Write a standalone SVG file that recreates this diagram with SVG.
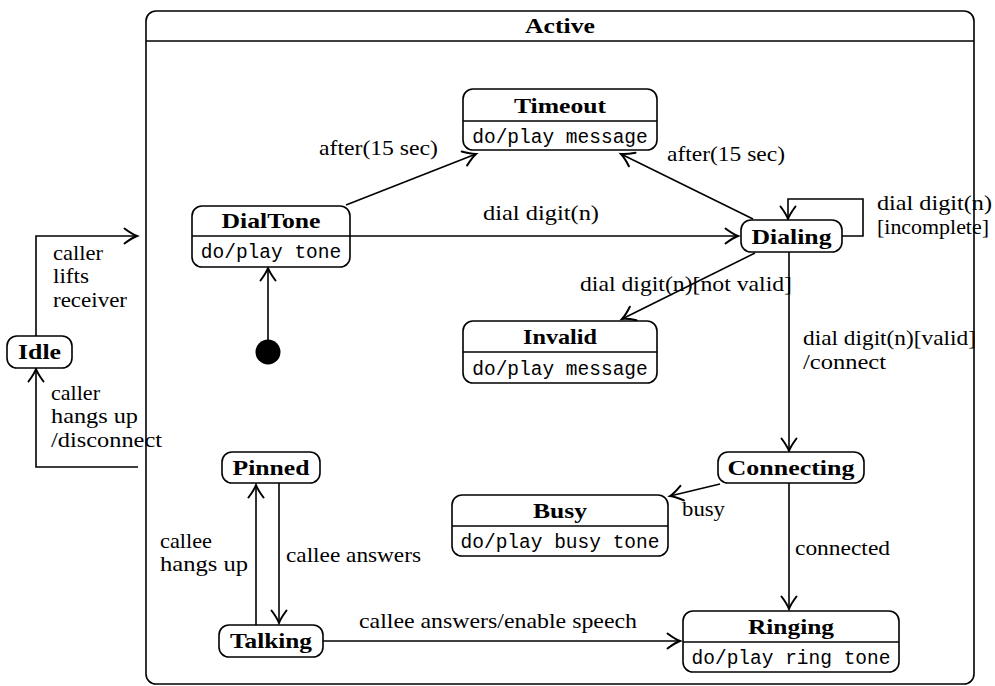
<svg xmlns="http://www.w3.org/2000/svg" width="995" height="686" viewBox="0 0 995 686">
  <style>
    .box { fill: #fff; stroke: #000; stroke-width: 1.6; }
    .div { stroke: #000; stroke-width: 1.6; }
    .edge { fill: none; stroke: #000; stroke-width: 1.6; }
    .title { font-family: "Liberation Serif", "DejaVu Serif", serif; font-weight: bold; font-size: 22px; text-anchor: middle; fill: #000; }
    .act { font-family: "Liberation Mono", "DejaVu Sans Mono", monospace; font-size: 19.5px; text-anchor: middle; fill: #000; }
    .lbl { font-family: "Liberation Serif", "DejaVu Serif", serif; font-size: 22px; fill: #000; }
  </style>
  <defs>
    <marker id="arr" markerUnits="userSpaceOnUse" markerWidth="20" markerHeight="20" viewBox="-12 -8 14 16" refX="0" refY="0" orient="auto">
      <path d="M -10 -6 Q -4 -1.5 0 0 Q -4 1.5 -10 6" fill="none" stroke="#000" stroke-width="1.6" stroke-linecap="round"/>
    </marker>
  </defs>

  <!-- Active composite state -->
  <g id="active">
    <rect class="box" x="146" y="11" width="828" height="673" rx="10"/>
    <line class="div" x1="146" y1="41" x2="974" y2="41"/>
    <text class="title" x="560" y="33" textLength="70" lengthAdjust="spacingAndGlyphs">Active</text>
  </g>

  <!-- Transitions -->
  <g id="connectors">
    <polyline class="edge" points="36,336 36,236 137,236" marker-end="url(#arr)"/>
    <polyline class="edge" points="138,467 36,467 36,369" marker-end="url(#arr)"/>
    <line class="edge" x1="268" y1="340" x2="268" y2="268" marker-end="url(#arr)"/>
    <line class="edge" x1="346" y1="205" x2="476" y2="154" marker-end="url(#arr)"/>
    <line class="edge" x1="753" y1="219" x2="621" y2="154" marker-end="url(#arr)"/>
    <line class="edge" x1="350" y1="236" x2="738" y2="236" marker-end="url(#arr)"/>
    <polyline class="edge" points="842,236 863,236 863,199 788,199 788,219" marker-end="url(#arr)"/>
    <line class="edge" x1="755" y1="253" x2="622" y2="319" marker-end="url(#arr)"/>
    <line class="edge" x1="789" y1="252" x2="789" y2="451" marker-end="url(#arr)"/>
    <line class="edge" x1="720" y1="484" x2="670" y2="496" marker-end="url(#arr)"/>
    <line class="edge" x1="789" y1="483" x2="789" y2="609" marker-end="url(#arr)"/>
    <line class="edge" x1="256" y1="625" x2="256" y2="485" marker-end="url(#arr)"/>
    <line class="edge" x1="279" y1="483" x2="279" y2="623" marker-end="url(#arr)"/>
    <line class="edge" x1="323" y1="641" x2="680" y2="641" marker-end="url(#arr)"/>
  </g>

  <!-- Transition labels -->
  <g id="labels">
    <text class="lbl" x="53" y="260" textLength="50" lengthAdjust="spacingAndGlyphs">caller</text>
    <text class="lbl" x="53" y="283" textLength="36" lengthAdjust="spacingAndGlyphs">lifts</text>
    <text class="lbl" x="53" y="307" textLength="74" lengthAdjust="spacingAndGlyphs">receiver</text>
    <text class="lbl" x="51" y="400" textLength="49" lengthAdjust="spacingAndGlyphs">caller</text>
    <text class="lbl" x="51" y="423" textLength="87" lengthAdjust="spacingAndGlyphs">hangs up</text>
    <text class="lbl" x="51" y="447" textLength="111" lengthAdjust="spacingAndGlyphs">/disconnect</text>
    <text class="lbl" x="319" y="155" textLength="119" lengthAdjust="spacingAndGlyphs">after(15 sec)</text>
    <text class="lbl" x="667" y="161" textLength="118" lengthAdjust="spacingAndGlyphs">after(15 sec)</text>
    <text class="lbl" x="483" y="220" textLength="116" lengthAdjust="spacingAndGlyphs">dial digit(n)</text>
    <text class="lbl" x="877" y="210" textLength="115" lengthAdjust="spacingAndGlyphs">dial digit(n)</text>
    <text class="lbl" x="877" y="234" textLength="112" lengthAdjust="spacingAndGlyphs">[incomplete]</text>
    <text class="lbl" x="580" y="291" textLength="212" lengthAdjust="spacingAndGlyphs">dial digit(n)[not valid]</text>
    <text class="lbl" x="803" y="345" textLength="173" lengthAdjust="spacingAndGlyphs">dial digit(n)[valid]</text>
    <text class="lbl" x="803" y="369" textLength="83" lengthAdjust="spacingAndGlyphs">/connect</text>
    <text class="lbl" x="682" y="516" textLength="43" lengthAdjust="spacingAndGlyphs">busy</text>
    <text class="lbl" x="795" y="555" textLength="95" lengthAdjust="spacingAndGlyphs">connected</text>
    <text class="lbl" x="286" y="562" textLength="135" lengthAdjust="spacingAndGlyphs">callee answers</text>
    <text class="lbl" x="160" y="548" textLength="52" lengthAdjust="spacingAndGlyphs">callee</text>
    <text class="lbl" x="160" y="571" textLength="88" lengthAdjust="spacingAndGlyphs">hangs up</text>
    <text class="lbl" x="359" y="628" textLength="278" lengthAdjust="spacingAndGlyphs">callee answers/enable speech</text>
  </g>

  <!-- States -->
  <g id="idle">
    <rect class="box" x="7" y="336" width="65" height="32" rx="10"/>
    <text class="title" x="39.5" y="359" textLength="43" lengthAdjust="spacingAndGlyphs">Idle</text>
  </g>

  <g id="initial">
    <circle cx="268" cy="352" r="12.5" fill="#000"/>
  </g>

  <g id="dialtone">
    <rect class="box" x="192" y="206" width="158" height="61" rx="10"/>
    <line class="div" x1="192" y1="236" x2="350" y2="236"/>
    <text class="title" x="271" y="228" textLength="99" lengthAdjust="spacingAndGlyphs">DialTone</text>
    <text class="act" x="271" y="258">do/play tone</text>
  </g>

  <g id="timeout">
    <rect class="box" x="463" y="89" width="194" height="61" rx="10"/>
    <line class="div" x1="463" y1="121" x2="657" y2="121"/>
    <text class="title" x="560" y="113" textLength="92" lengthAdjust="spacingAndGlyphs">Timeout</text>
    <text class="act" x="560" y="143">do/play message</text>
  </g>

  <g id="dialing">
    <rect class="box" x="741" y="220" width="101" height="32" rx="10"/>
    <text class="title" x="791.5" y="244" textLength="80" lengthAdjust="spacingAndGlyphs">Dialing</text>
  </g>

  <g id="invalid">
    <rect class="box" x="463" y="321" width="194" height="62" rx="10"/>
    <line class="div" x1="463" y1="352" x2="657" y2="352"/>
    <text class="title" x="560" y="344" textLength="74" lengthAdjust="spacingAndGlyphs">Invalid</text>
    <text class="act" x="560" y="375">do/play message</text>
  </g>

  <g id="connecting">
    <rect class="box" x="718" y="452" width="146" height="31" rx="10"/>
    <text class="title" x="791" y="475" textLength="127" lengthAdjust="spacingAndGlyphs">Connecting</text>
  </g>

  <g id="busy">
    <rect class="box" x="452" y="495" width="216" height="61" rx="10"/>
    <line class="div" x1="452" y1="526" x2="668" y2="526"/>
    <text class="title" x="560" y="518" textLength="54" lengthAdjust="spacingAndGlyphs">Busy</text>
    <text class="act" x="560" y="548">do/play busy tone</text>
  </g>

  <g id="ringing">
    <rect class="box" x="683" y="611" width="216" height="61" rx="10"/>
    <line class="div" x1="683" y1="642" x2="899" y2="642"/>
    <text class="title" x="791" y="634" textLength="86" lengthAdjust="spacingAndGlyphs">Ringing</text>
    <text class="act" x="791" y="664">do/play ring tone</text>
  </g>

  <g id="pinned">
    <rect class="box" x="222" y="452" width="98" height="31" rx="10"/>
    <text class="title" x="271" y="475" textLength="77" lengthAdjust="spacingAndGlyphs">Pinned</text>
  </g>

  <g id="talking">
    <rect class="box" x="219" y="625" width="104" height="32" rx="10"/>
    <text class="title" x="271" y="648" textLength="82" lengthAdjust="spacingAndGlyphs">Talking</text>
  </g>
</svg>
